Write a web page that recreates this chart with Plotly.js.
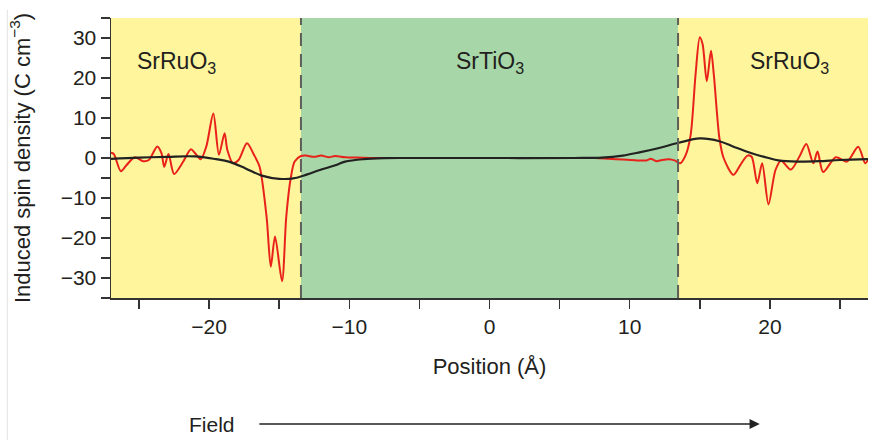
<!DOCTYPE html>
<html>
<head>
<meta charset="utf-8">
<script src="https://cdn.plot.ly/plotly-3.0.1.min.js"></script>
<style>
  html, body { margin: 0; padding: 0; background: #ffffff; }
  #chart { width: 871px; height: 440px; }
</style>
</head>
<body>
<div id="chart"></div>
<script>
// ---- Data ----
// Red curve: layer-resolved induced spin density
const posRed = [
  -27.0, -26.8, -26.3, -25.9, -25.3, -24.7, -24.3, -23.7, -23.4, -23.2, -22.9,
  -22.5, -21.9, -21.3, -21.0, -20.6, -20.2, -19.7, -19.3, -18.9, -18.7, -18.3,
  -17.9, -17.3, -16.8, -16.4, -15.9, -15.6, -15.3, -14.8, -14.5, -14.2, -13.9,
  -13.45, -13.1, -12.5, -12.0, -11.5, -11.0, -10.3, -9.5, -8.0, -4.0, 0.0,
  4.0, 7.5, 8.5, 9.5, 10.5, 11.2, 11.5, 11.9, 12.3, 12.8, 13.2, 13.6, 14.0,
  14.35, 14.7, 15.0, 15.2, 15.5, 15.8, 16.0, 16.4, 16.7, 17.4, 17.9, 18.4,
  18.7, 19.1, 19.45, 19.9, 20.4, 20.8, 21.5, 22.1, 22.6, 23.1, 23.4, 23.8,
  24.7, 25.5, 26.3, 26.8, 27.0
];
const spinRed = [
  1.3, 1.0, -3.3, -1.8, 0.2, -0.8, -0.5, 2.9, 1.2, -2.2, 1.0,
  -4.0, -1.2, 2.2, 1.2, -0.3, 2.9, 11.1, 0.8, 6.2, 2.0, -1.3,
  -0.5, 3.7, 0.8, -2.2, -14.8, -27.2, -19.6, -30.8, -14.8, -5.5, -0.9,
  0.5, 0.6, 0.3, 0.6, 0.2, 0.5, 0.2, 0.1, 0.0, 0.0, 0.0,
  0.0, 0.0, -0.2, -0.4, -0.6, -0.6, -0.2, -0.8, -0.5, -0.3, -0.6, -1.3, 0.8,
  5.8, 20.9, 30.2, 28.5, 19.2, 26.8, 20.9, 5.0, 0.0, -4.2, -1.7, 0.6,
  0.3, -6.3, -1.3, -11.6, -3.0, -0.7, -2.9, 0.3, 3.5, -1.3, 1.6, -3.5,
  0.2, -0.9, 2.8, -1.3, -0.5
];
// Black curve: smoothed (averaged) spin density
const posAvg = [
  -27.0, -25.0, -23.0, -21.0, -19.5, -18.6, -17.4, -16.25, -15.0, -14.0, -13.0,
  -12.1, -11.0, -10.3, -9.0, -7.5, -6.0, 0.0, 6.0, 8.0, 9.5, 10.7, 12.1, 13.5,
  15.0, 16.4, 17.5, 18.7, 19.9, 20.6, 22.0, 23.5, 25.0, 27.0
];
const spinAvg = [
  -0.2, 0.1, 0.3, 0.4, -0.3, -0.9, -2.6, -4.4, -5.2, -5.1, -4.1,
  -3.0, -1.8, -0.9, -0.3, -0.05, 0.0, 0.0, 0.0, 0.1, 0.6, 1.4, 2.5, 3.8,
  4.9, 4.2, 2.7, 1.2, 0.0, -0.6, -0.9, -0.8, -0.5, -0.3
];
// Layer boundaries and region labels
const interfaces = [-13.45, 13.45];
const regionLabels = ["SrRuO<sub>3</sub>", "SrTiO<sub>3</sub>", "SrRuO<sub>3</sub>"];
const regionLabelX = [-22.3, 0, 21.4];
// Tick values / labels
const xTickVals = [-25, -20, -15, -10, -5, 0, 5, 10, 15, 20, 25];
const xTickText = ["", "\u221220", "", "\u221210", "", "0", "", "10", "", "20", ""];
const yTickVals = [-35, -30, -25, -20, -15, -10, -5, 0, 5, 10, 15, 20, 25, 30, 35];
const yTickText = ["", "\u221230", "", "\u221220", "", "\u221210", "", "0", "", "10", "", "20", "", "30", ""];
const xRange = [-27, 27];
const yRange = [-35, 35];

// ---- Styling ----
const FONT = "Liberation Sans, Arial, Helvetica, sans-serif";
const TXT = "#231f20";
const YELLOW = "#fef59c";
const GREEN = "#a7d7a8";

const traces = [
  {
    x: posRed, y: spinRed, type: "scatter", mode: "lines",
    line: { color: "#e8221b", width: 2, shape: "spline", smoothing: 0.8 },
    hoverinfo: "skip"
  },
  {
    x: posAvg, y: spinAvg, type: "scatter", mode: "lines",
    line: { color: "#222222", width: 2.2, shape: "spline", smoothing: 1 },
    hoverinfo: "skip"
  }
];

const shapes = [
  { type: "rect", xref: "x", yref: "paper", x0: xRange[0], x1: interfaces[0], y0: 0, y1: 1,
    fillcolor: YELLOW, line: { width: 0 }, layer: "below" },
  { type: "rect", xref: "x", yref: "paper", x0: interfaces[0], x1: interfaces[1], y0: 0, y1: 1,
    fillcolor: GREEN, line: { width: 0 }, layer: "below" },
  { type: "rect", xref: "x", yref: "paper", x0: interfaces[1], x1: xRange[1], y0: 0, y1: 1,
    fillcolor: YELLOW, line: { width: 0 }, layer: "below" }
];
interfaces.forEach(function (xi) {
  shapes.push({ type: "line", xref: "x", yref: "paper", x0: xi, x1: xi, y0: 0, y1: 1,
    line: { color: "#5f5f5a", width: 2, dash: "13px,8px" }, layer: "above" });
});
// faint frame line at far left of the figure
shapes.push({ type: "line", xref: "paper", yref: "paper", x0: -0.137, x1: -0.137, y0: 1.03, y1: -0.51,
  line: { color: "#e2e2e2", width: 1 } });

const annotations = regionLabels.map(function (t, i) {
  return { x: regionLabelX[i], y: 24, xref: "x", yref: "y", text: t, showarrow: false,
    font: { family: FONT, size: 23, color: TXT }, xanchor: "center", yanchor: "middle" };
});
annotations.push({ x: 0.1334, y: -0.45, xref: "paper", yref: "paper", text: "Field",
  showarrow: false, font: { family: FONT, size: 21, color: TXT }, xanchor: "center", yanchor: "middle" });
annotations.push({ x: 0.857, y: -0.45, xref: "paper", yref: "paper", text: "",
  showarrow: true, axref: "paper", ayref: "paper", ax: 0.194, ay: -0.45,
  arrowhead: 2, arrowsize: 1.2, arrowwidth: 1.7, arrowcolor: "#222", standoff: 0, startstandoff: 0 });

const axisCommon = {
  showgrid: false, zeroline: false, showline: true, linecolor: "#333", linewidth: 1.5,
  ticks: "outside", ticklen: 9, tickwidth: 1.5, tickcolor: "#333",
  tickmode: "array", tickfont: { family: FONT, size: 21, color: TXT }
};

const layout = {
  width: 871, height: 440,
  margin: { l: 111, r: 3, t: 18, b: 142 },
  paper_bgcolor: "#ffffff", plot_bgcolor: "#ffffff",
  showlegend: false,
  font: { family: FONT, color: TXT },
  xaxis: Object.assign({}, axisCommon, {
    range: xRange, tickvals: xTickVals, ticktext: xTickText,
    title: { text: "Position (\u00c5)", font: { family: FONT, size: 22, color: TXT }, standoff: 22 }
  }),
  yaxis: Object.assign({}, axisCommon, {
    range: yRange, tickvals: yTickVals, ticktext: yTickText,
    title: { text: "Induced spin density (C cm<sup>\u22123</sup>)", font: { family: FONT, size: 22, color: TXT }, standoff: 24 }
  }),
  shapes: shapes,
  annotations: annotations
};

Plotly.newPlot("chart", traces, layout, { staticPlot: true, displayModeBar: false });
</script>
</body>
</html>
